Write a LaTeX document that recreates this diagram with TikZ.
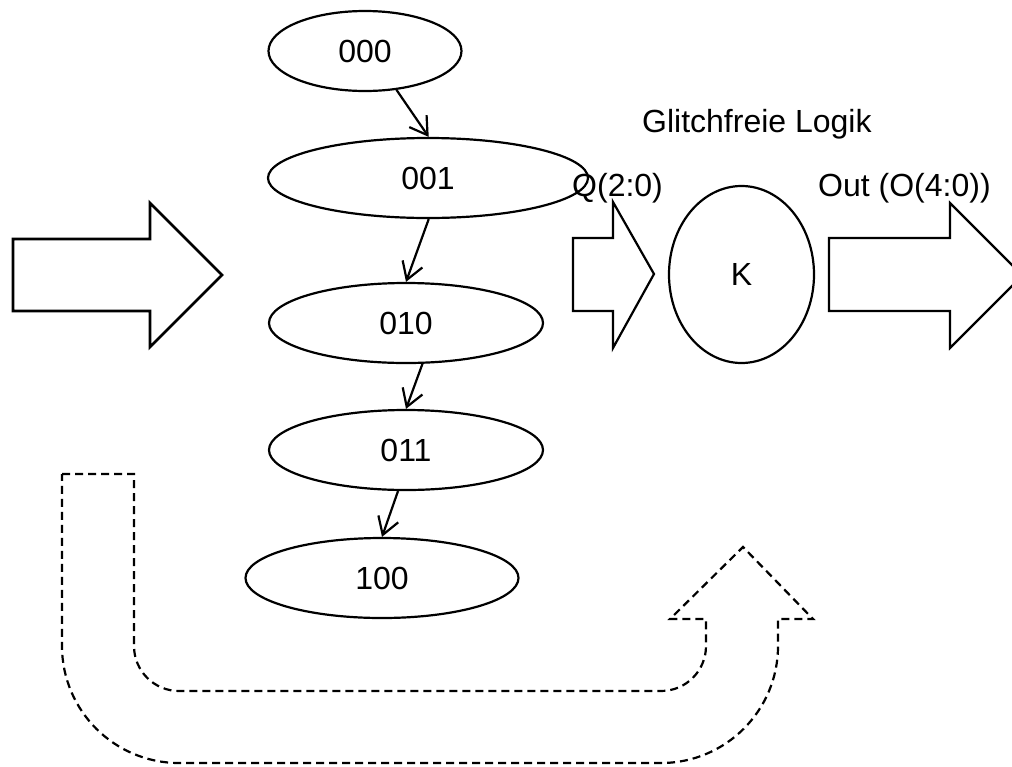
\documentclass[tikz,border=0pt]{standalone}
\usepackage{fontspec}
\setmainfont{Liberation Sans}
\usetikzlibrary{shapes.geometric,arrows.meta}

\begin{document}
\begin{tikzpicture}[x=1pt,y=-1pt,
  label font/.style={font=\fontsize{32}{38}\selectfont},
  state/.style={ellipse,draw,line width=2.2pt,inner sep=0pt,label font},
  trans/.style={line width=2.2pt,-{Straight Barb[length=17pt,width=21pt,line width=2.2pt]}},
  bigarrow/.style={line width=2.8pt,line join=miter},
  smallarrow/.style={line width=2.2pt,line join=miter},
  feedback/.style={line width=2.2pt,dash pattern=on 8pt off 5pt,line join=miter},
  caption/.style={anchor=base west,inner sep=0pt,label font}]

\useasboundingbox (0,0) rectangle (1012,766);

% counter states
\node[state,minimum width=193pt,minimum height=80pt] (s000) at (365,51)  {000};
\node[state,minimum width=320pt,minimum height=80pt] (s001) at (428,178) {001};
\node[state,minimum width=274pt,minimum height=80pt] (s010) at (406,323) {010};
\node[state,minimum width=274pt,minimum height=80pt] (s011) at (406,450) {011};
\node[state,minimum width=273pt,minimum height=80pt] (s100) at (382,578) {100};

% state transitions
\draw[trans] (s000.-51)  -- (s001.89);
\draw[trans] (s001.-89)  -- (s010.90);
\draw[trans] (s010.-68)  -- (s011.90);
\draw[trans] (s011.-101) -- (s100.90);

% combinational block
\node[ellipse,draw,line width=2.2pt,inner sep=0pt,minimum width=145pt,
      minimum height=177pt,label font] (logic) at (741.5,274.5) {K};

% texts
\node[caption] (title) at (642,132) {Glitchfreie Logik};
\node[caption] (qlab)  at (572,196) {Q(2:0)};
\node[caption] (olab)  at (818,196) {Out (O(4:0))};

% input arrow
\draw[bigarrow] (13,239) -- (150,239) -- (150,203) -- (222,275)
  -- (150,347) -- (150,311) -- (13,311) -- cycle;

% state vector arrow
\draw[smallarrow] (573,238) -- (613,238) -- (613,202) -- (654,274)
  -- (613,348) -- (613,311) -- (573,311) -- cycle;

% output arrow
\draw[smallarrow] (829,238) -- (950,238) -- (950,203) -- (1022.5,275.5)
  -- (950,348) -- (950,311) -- (829,311) -- cycle;

% dashed feedback arrow
\draw[feedback] (62,474) -- (134,474) -- (134,646)
  .. controls (134,670.85) and (154.15,691) .. (179,691)
  -- (661,691)
  .. controls (685.85,691) and (706,670.85) .. (706,646)
  -- (706,619) -- (670,619) -- (743,547) -- (813,619) -- (778,619)
  -- (778,646)
  .. controls (778,710.6) and (725.6,763) .. (661,763)
  -- (179,763)
  .. controls (114.4,763) and (62,710.6) .. (62,646)
  -- cycle;
\end{tikzpicture}
\end{document}
